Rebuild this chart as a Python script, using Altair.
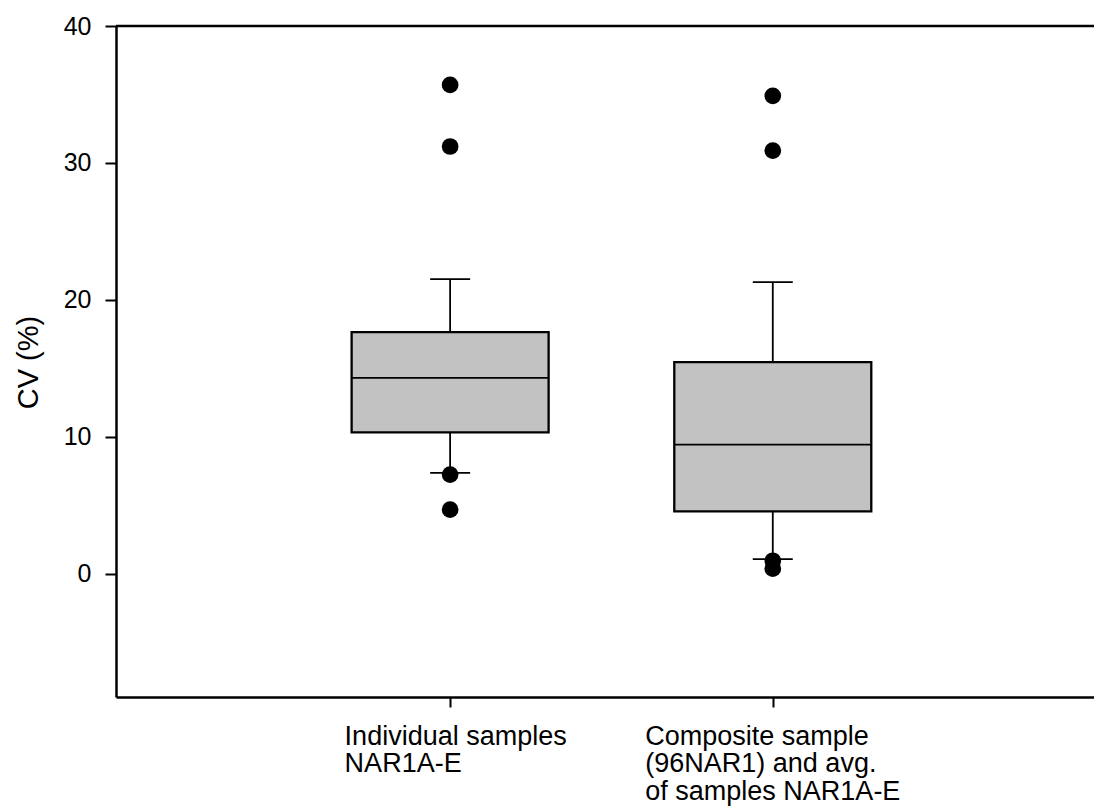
import json
import altair as alt
import pandas as pd

# Group positions along the x axis and their (multi-line) tick labels
groups = [1, 2]
group_labels = [
    ["Individual samples", "NAR1A-E"],
    ["Composite sample", "(96NAR1) and avg.", "of samples NAR1A-E"],
]

# Box-plot summary statistics of CV (%) for each group
whisker_low = [7.36, 1.07]
q1 = [10.33, 4.56]
median = [14.31, 9.43]
q3 = [17.65, 15.45]
whisker_high = [21.52, 21.30]

# Points beyond the whiskers
outlier_group = [1, 1, 1, 1, 2, 2, 2, 2]
outlier_cv = [35.7, 31.2, 7.24, 4.68, 34.9, 30.9, 0.95, 0.37]

y_ticks = [0, 10, 20, 30, 40]

stats = pd.DataFrame({
    "group": groups,
    "lo": whisker_low,
    "q1": q1,
    "med": median,
    "q3": q3,
    "hi": whisker_high,
})
outliers = pd.DataFrame({"group": outlier_group, "cv": outlier_cv})

FONT = "Liberation Sans"
BOX_WIDTH = 197

# Multi-line category labels for the quantitative x axis
label_expr = "datum.value == 1 ? {} : datum.value == 2 ? {} : ''".format(
    json.dumps(group_labels[0]), json.dumps(group_labels[1])
)

x_scale = alt.Scale(domain=[-0.02, 2.98], nice=False, zero=False)
y_scale = alt.Scale(domain=[-9, 40], nice=False, zero=False)

x_axis = alt.Axis(
    values=groups,
    labelExpr=label_expr,
    labelAlign="left",
    labelBaseline="top",
    labelFlush=False,
    labelOverlap=False,
    labelBound=False,
    labelLimit=500,
    labelOffset={"condition": {"test": "datum.value == 1", "value": -106}, "value": -128},
    labelPadding=16,
    labelLineHeight=27.5,
    labelFontSize=27,
    labelFont=FONT,
    labelColor="black",
    tickSize=10,
    tickWidth=2,
    tickColor="black",
    domainColor="black",
    domainWidth=2.5,
    grid=False,
    title=None,
)

y_axis = alt.Axis(
    values=y_ticks,
    labelFontSize=25,
    labelFont=FONT,
    labelColor="black",
    labelPadding=14,
    tickSize=11,
    tickWidth=2,
    tickColor="black",
    domainColor="black",
    domainWidth=2.5,
    grid=False,
    title="CV (%)",
    titleFont=FONT,
    titleFontSize=29,
    titleFontWeight="normal",
    titleColor="black",
    titleAngle=270,
    titleAlign="center",
    titleBaseline="middle",
    titleX=-88,
    titleY=336,
)

base = alt.Chart(stats)
x_enc = alt.X("group:Q", scale=x_scale, axis=x_axis)

whiskers = base.mark_rule(color="black", strokeWidth=1.8).encode(
    x=x_enc,
    y=alt.Y("lo:Q", scale=y_scale, axis=y_axis),
    y2="hi:Q",
)

caps_low = base.mark_tick(orient="horizontal", size=40, thickness=1.8, color="black", opacity=1).encode(
    x=x_enc, y=alt.Y("lo:Q", scale=y_scale)
)
caps_high = base.mark_tick(orient="horizontal", size=40, thickness=1.8, color="black", opacity=1).encode(
    x=x_enc, y=alt.Y("hi:Q", scale=y_scale)
)

boxes = base.mark_bar(size=BOX_WIDTH, fill="#c2c2c2", stroke="black", strokeWidth=2.3).encode(
    x=x_enc,
    y=alt.Y("q1:Q", scale=y_scale),
    y2="q3:Q",
)

medians = base.mark_tick(orient="horizontal", size=BOX_WIDTH, thickness=1.8, color="black", opacity=1).encode(
    x=x_enc, y=alt.Y("med:Q", scale=y_scale)
)

points = alt.Chart(outliers).mark_circle(size=280, color="black", opacity=1).encode(
    x=alt.X("group:Q", scale=x_scale),
    y=alt.Y("cv:Q", scale=y_scale),
)

# Frame line along the top of the plot at 40 %
top_line = alt.Chart(pd.DataFrame({"v": [40]})).mark_rule(color="black", strokeWidth=2.5).encode(
    y=alt.Y("v:Q", scale=y_scale)
)

chart = (
    alt.layer(whiskers, caps_low, caps_high, boxes, medians, points, top_line)
    .properties(
        width=978,
        height=671,
        padding={"left": 116, "top": 26, "right": 0, "bottom": 111},
        autosize="none",
        background="white",
    )
    .configure_view(stroke=None)
)

chart.save("out.html", embed_options={"renderer": "svg", "actions": False})
